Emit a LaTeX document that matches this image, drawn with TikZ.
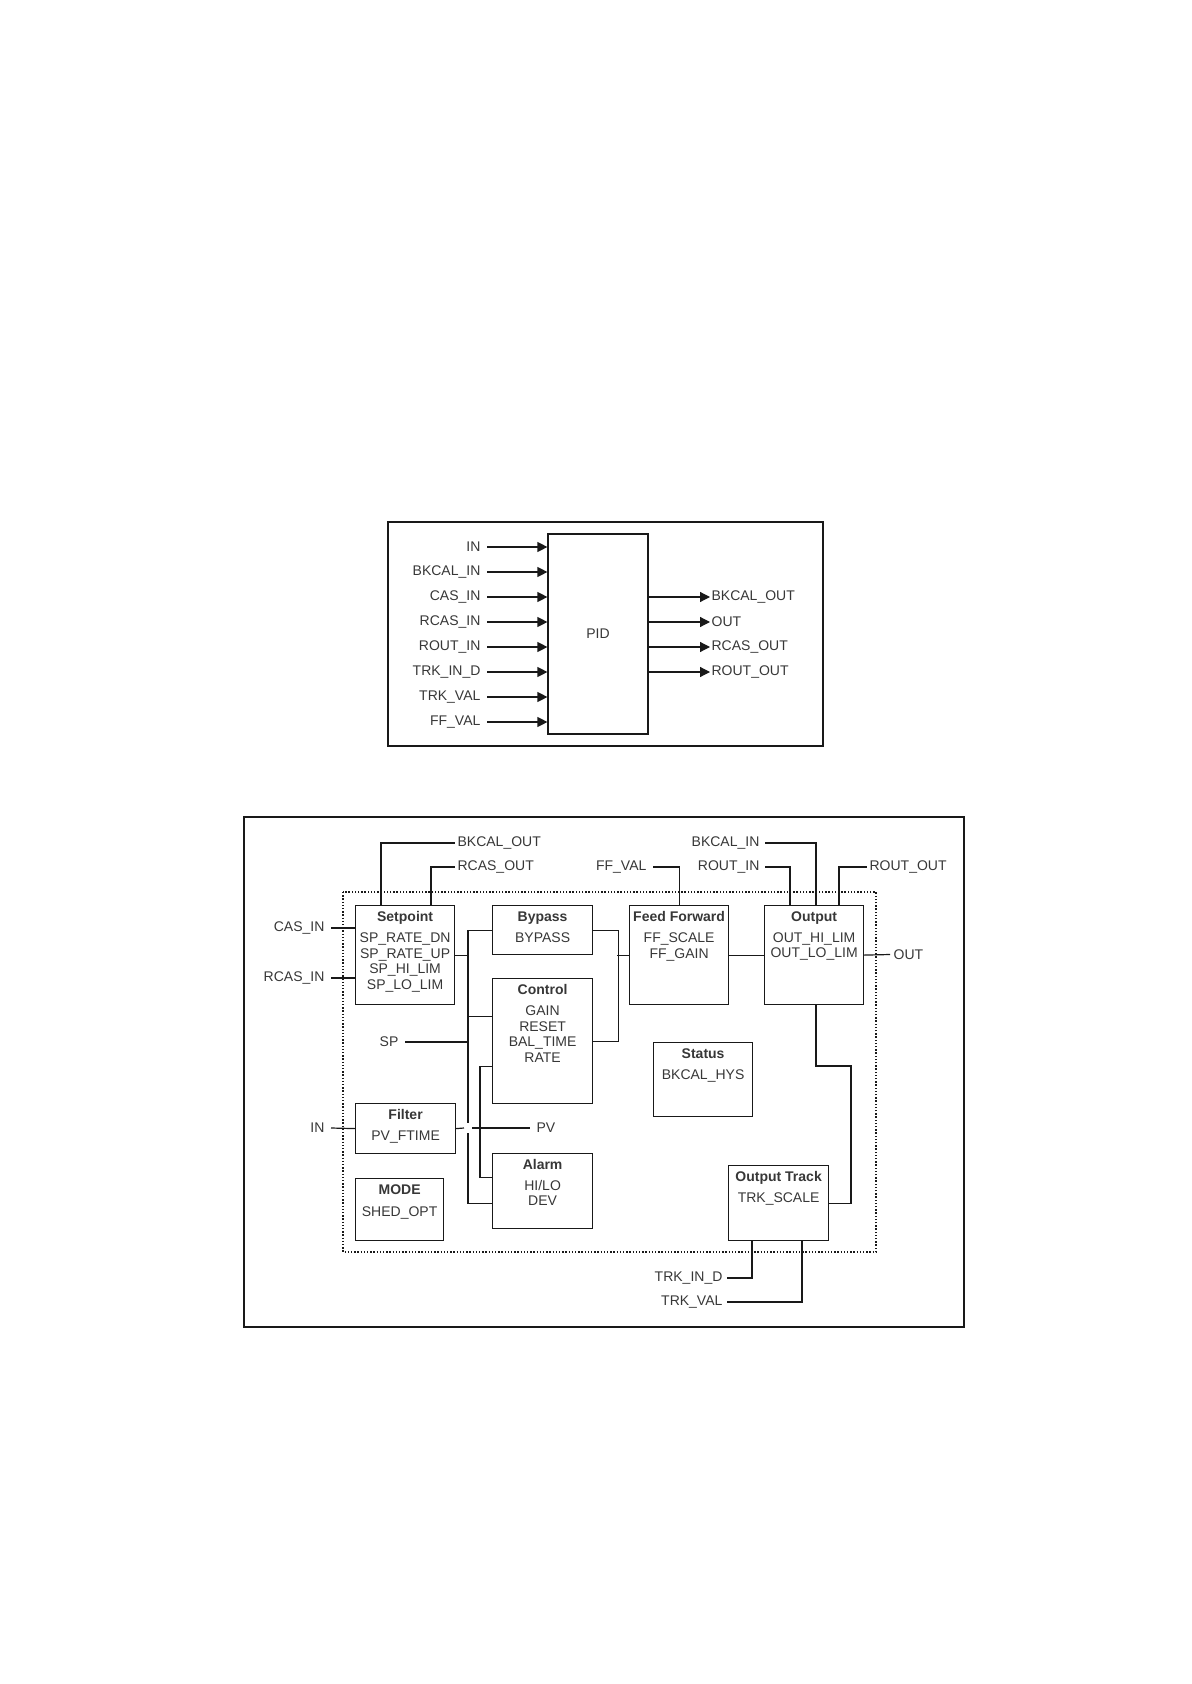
\documentclass[tikz,border=0pt]{standalone}
\usepackage{fontspec}
\setmainfont{Liberation Sans}
\usepackage{tikz}
\usetikzlibrary{arrows.meta, positioning, calc}
\definecolor{inkblack}{RGB}{25,25,25}
\definecolor{txtgrey}{RGB}{55,55,55}

\begin{document}
\begin{tikzpicture}[
  x=0.5pt, y=-0.5pt,
  line width=0.6pt,
  blk/.style={rectangle, draw=inkblack, anchor=north west, inner sep=0pt},
  ttl/.style={anchor=north, align=center, inner sep=3pt, text=txtgrey,
              font=\fontsize{7}{7.75}\selectfont},
  sig/.style={inner sep=3pt, text=txtgrey, font=\fontsize{7}{8}\selectfont},
  arrow/.style={-{Triangle[length=5pt, width=5pt]}, draw=inkblack},
  wire/.style={draw=inkblack},
  frame/.style={draw=inkblack},
  zone/.style={draw=inkblack, dash pattern=on 0.7pt off 0.9pt}
]
\useasboundingbox (0,0) rectangle (1191,1684);

% PID block
\draw[frame] (388,522) rectangle (823,746);
\node[draw=inkblack, sig, minimum width=50pt, minimum height=100pt] (pid) at (598,634) {PID};

\node[sig, anchor=east] (nin) at (487,547) {IN};
\node[sig, anchor=east] (nbkin) at (487,572) {BKCAL\_IN};
\node[sig, anchor=east] (ncas) at (487,597) {CAS\_IN};
\node[sig, anchor=east] (nrcas) at (487,622) {RCAS\_IN};
\node[sig, anchor=east] (nroutin) at (487,647) {ROUT\_IN};
\node[sig, anchor=east] (ntrkd) at (487,672) {TRK\_IN\_D};
\node[sig, anchor=east] (ntrkv) at (487,697) {TRK\_VAL};
\node[sig, anchor=east] (nffv) at (487,722) {FF\_VAL};

\node[sig, anchor=west, inner sep=0.5pt] (nbkout) at (710,597) {BKCAL\_OUT};
\node[sig, anchor=west, inner sep=0.5pt] (nout) at (710,622) {OUT};
\node[sig, anchor=west, inner sep=0.5pt] (nrcasout) at (710,647) {RCAS\_OUT};
\node[sig, anchor=west, inner sep=0.5pt] (nroutout) at (710,672) {ROUT\_OUT};

\draw[arrow] (nin.east) -- (nin.east -| pid.west);
\draw[arrow] (nbkin.east) -- (nbkin.east -| pid.west);
\draw[arrow] (ncas.east) -- (ncas.east -| pid.west);
\draw[arrow] (nrcas.east) -- (nrcas.east -| pid.west);
\draw[arrow] (nroutin.east) -- (nroutin.east -| pid.west);
\draw[arrow] (ntrkd.east) -- (ntrkd.east -| pid.west);
\draw[arrow] (ntrkv.east) -- (ntrkv.east -| pid.west);
\draw[arrow] (nffv.east) -- (nffv.east -| pid.west);

\draw[arrow] (pid.east |- nbkout.west) -- (nbkout.west);
\draw[arrow] (pid.east |- nout.west) -- (nout.west);
\draw[arrow] (pid.east |- nrcasout.west) -- (nrcasout.west);
\draw[arrow] (pid.east |- nroutout.west) -- (nroutout.west);

% schematic
\draw[frame] (244,817) rectangle (964,1327);
\draw[zone] (343,892) rectangle (876,1252);

\node[blk, minimum width=49.5pt, minimum height=49.5pt] (setp) at (355,905) {};
\node[ttl] (setpt) at (setp.north) {\textbf{Setpoint}\\[2.75pt]SP\_RATE\_DN\\SP\_RATE\_UP\\SP\_HI\_LIM\\SP\_LO\_LIM};
\node[blk, minimum width=50pt, minimum height=24.5pt] (bypass) at (492,905) {};
\node[ttl] (bypasst) at (bypass.north) {\textbf{Bypass}\\[2.75pt]BYPASS};
\node[blk, minimum width=50pt, minimum height=62.5pt] (ctrl) at (492,978) {};
\node[ttl] (ctrlt) at (ctrl.north) {\textbf{Control}\\[2.75pt]GAIN\\RESET\\BAL\_TIME\\RATE};
\node[blk, minimum width=49.5pt, minimum height=49.5pt] (ffwd) at (629,905) {};
\node[ttl] (ffwdt) at (ffwd.north) {\textbf{Feed Forward}\\[2.75pt]FF\_SCALE\\FF\_GAIN};
\node[blk, minimum width=49.5pt, minimum height=49.5pt] (outb) at (764,905) {};
\node[ttl] (outbt) at (outb.north) {\textbf{Output}\\[2.75pt]OUT\_HI\_LIM\\OUT\_LO\_LIM};
\node[blk, minimum width=49.5pt, minimum height=37pt] (status) at (653,1042) {};
\node[ttl] (statust) at (status.north) {\textbf{Status}\\[2.75pt]BKCAL\_HYS};
\node[blk, minimum width=50pt, minimum height=25pt] (filter) at (355,1103) {};
\node[ttl] (filtert) at (filter.north) {\textbf{Filter}\\[2.75pt]PV\_FTIME};
\node[blk, minimum width=44pt, minimum height=31pt] (mode) at (355,1178) {};
\node[ttl] (modet) at (mode.north) {\textbf{MODE}\\[3.5pt]SHED\_OPT};
\node[blk, minimum width=50pt, minimum height=37.5pt] (alarm) at (492,1153) {};
\node[ttl] (alarmt) at (alarm.north) {\textbf{Alarm}\\[2.5pt]HI/LO\\DEV};
\node[blk, minimum width=50pt, minimum height=37.5pt] (otrack) at (728,1165) {};
\node[ttl] (otrackt) at (otrack.north) {\textbf{Output Track}\\[2.75pt]TRK\_SCALE};

% signal names
\node[sig, anchor=east] (lcas) at (331,928) {CAS\_IN};
\node[sig, anchor=east] (lrcas) at (331,978) {RCAS\_IN};
\node[sig, anchor=west, inner sep=1pt] (lbkout) at (455,843) {BKCAL\_OUT};
\node[sig, anchor=west, inner sep=1pt] (lrcasout) at (455,867) {RCAS\_OUT};
\node[sig, anchor=east] (lffv) at (653,867) {FF\_VAL};
\node[sig, anchor=east, inner sep=2.5pt] (lbkin) at (765,843) {BKCAL\_IN};
\node[sig, anchor=east, inner sep=2.5pt] (lroutin) at (765,867) {ROUT\_IN};
\node[sig, anchor=west, inner sep=1pt] (lroutout) at (867,867) {ROUT\_OUT};
\node[sig, anchor=west, inner sep=1.5pt] (lout) at (890,954.5) {OUT};
\node[sig, anchor=east] (lsp) at (405,1042) {SP};
\node[sig, anchor=east] (lin) at (331,1128) {IN};
\node[sig, anchor=west] (lpv) at (530,1128) {PV};
\node[sig, anchor=east, inner sep=2pt] (ltrkd) at (727,1278) {TRK\_IN\_D};
\node[sig, anchor=east, inner sep=2pt] (ltrkv) at (727,1302) {TRK\_VAL};

\coordinate (busl) at (468,1128);
\coordinate (obend) at (851,1066);

\draw[wire] (lcas.east) -- (setp.west |- lcas.east);
\draw[wire] (lrcas.east) -- (setp.west |- lrcas.east);
\draw[wire] ([xshift=13pt]setp.north west) |- (lbkout.west);
\draw[wire] ([xshift=38pt]setp.north west) |- (lrcasout.west);
\draw[wire] (lin.east) -- (filter.west);

\draw[wire] (bypass.west) -| ([yshift=2.5pt]busl);
\draw[wire] ([yshift=-2.5pt]busl) |- ([yshift=-6.25pt]alarm.west);
\draw[wire] (setp.east) -- (setp.east -| busl);
\draw[wire] ([yshift=12.25pt]ctrl.west) -- ([yshift=12.25pt]ctrl.west -| busl);
\draw[wire] (lsp.east) -- (lsp.east -| busl);
\draw[wire] ([yshift=-12.75pt]ctrl.west) -- ++(-6pt,0) |- ([yshift=6.75pt]alarm.west);
\draw[wire] (filter.east) -- ([xshift=-2pt]busl);
\draw[wire] ([xshift=2pt]busl) -- (lpv.west);

\draw[wire] (bypass.east) -- ++(12.5pt,0) |- (ctrl.east);
\draw[wire] (ffwd.west) -- ++(-6pt,0);
\draw[wire] (ffwd.north) |- (lffv.east);
\draw[wire] (ffwd.east) -- (outb.west);

\draw[wire] ([xshift=13pt]outb.north west) |- (lroutin.east);
\draw[wire] ([xshift=26pt]outb.north west) |- (lbkin.east);
\draw[wire] ([xshift=37.5pt]outb.north west) |- (lroutout.west);
\draw[wire] (outb.east) -- (lout.west);
\draw[wire] ([xshift=26pt]outb.south west) |- (obend) |- (otrack.east);

\draw[wire] ([xshift=12pt]otrack.south west) |- (ltrkd.east);
\draw[wire] ([xshift=37pt]otrack.south west) |- (ltrkv.east);
\end{tikzpicture}
\end{document}
